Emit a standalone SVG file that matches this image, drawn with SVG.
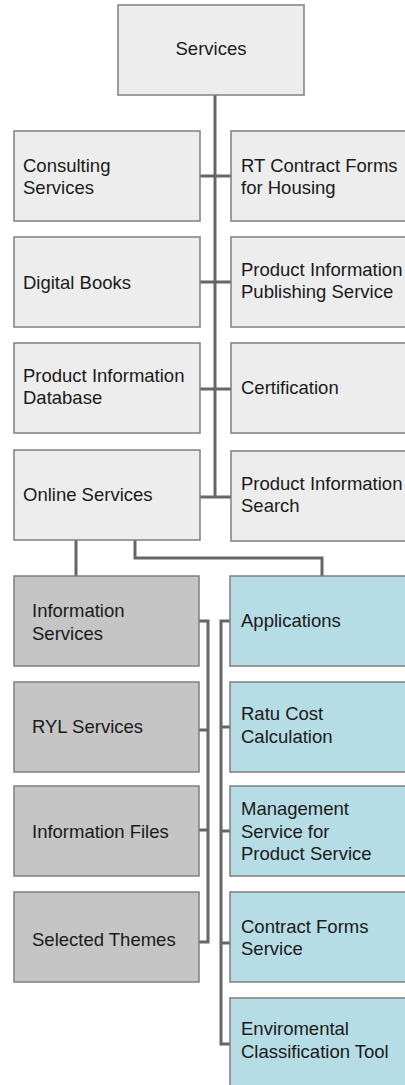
<svg xmlns="http://www.w3.org/2000/svg" width="405" height="1085" viewBox="0 0 405 1085">
<style>
.box{stroke:#7f7f7f;stroke-width:1.5}
.l{fill:#ededed}
.g{fill:#c5c5c5}
.b{fill:#b6dce5}
text{font-family:"Liberation Sans",Arial,sans-serif;font-size:18.5px;fill:#1a1a1a}
.c{stroke:#666;stroke-width:3;fill:none}
</style>
<rect width="405" height="1085" fill="#fff"/>
<g id="connectors">
<path class="c" d="M215,95 V497"/>
<path class="c" d="M200,176 H231 M200,282 H231 M200,389 H231 M200,497 H231"/>
<path class="c" d="M76,540 V576"/>
<path class="c" d="M135,540 V558 H322 V576"/>
<path class="c" d="M199,621 H208 V942 H199 M199,730 H208 M199,830 H208"/>
<path class="c" d="M230,621 H221 V1044 H230 M221,727 H230 M221,831 H230 M221,943 H230"/>
</g>
<g id="n-services"><rect class="box l" x="118" y="5" width="186" height="90"/><text x="211" y="55" text-anchor="middle">Services</text></g>
<g id="n-consulting"><rect class="box l" x="14" y="131" width="186" height="90"/><text x="23" y="172">Consulting</text><text x="23" y="194">Services</text></g>
<g id="n-rt"><rect class="box l" x="231" y="131" width="190" height="90"/><text x="241" y="172">RT Contract Forms</text><text x="241" y="194">for Housing</text></g>
<g id="n-digital"><rect class="box l" x="14" y="237" width="186" height="90"/><text x="23" y="289">Digital Books</text></g>
<g id="n-pips"><rect class="box l" x="231" y="237" width="190" height="90"/><text x="241" y="276">Product Information</text><text x="241" y="298">Publishing Service</text></g>
<g id="n-pid"><rect class="box l" x="14" y="343" width="186" height="90"/><text x="23" y="382">Product Information</text><text x="23" y="404">Database</text></g>
<g id="n-cert"><rect class="box l" x="231" y="343" width="190" height="90"/><text x="241" y="394">Certification</text></g>
<g id="n-online"><rect class="box l" x="14" y="450" width="186" height="90"/><text x="23" y="501">Online Services</text></g>
<g id="n-pis"><rect class="box l" x="231" y="451" width="190" height="90"/><text x="241" y="490">Product Information</text><text x="241" y="512">Search</text></g>
<g id="n-infoserv"><rect class="box g" x="14" y="576" width="185" height="90"/><text x="32" y="617">Information</text><text x="32" y="640">Services</text></g>
<g id="n-ryl"><rect class="box g" x="14" y="682" width="185" height="90"/><text x="32" y="733">RYL Services</text></g>
<g id="n-files"><rect class="box g" x="14" y="786" width="185" height="90"/><text x="32" y="838">Information Files</text></g>
<g id="n-themes"><rect class="box g" x="14" y="892" width="185" height="90"/><text x="32" y="946">Selected Themes</text></g>
<g id="n-apps"><rect class="box b" x="230" y="576" width="190" height="90"/><text x="241" y="627">Applications</text></g>
<g id="n-ratu"><rect class="box b" x="230" y="682" width="190" height="90"/><text x="241" y="720">Ratu Cost</text><text x="241" y="743">Calculation</text></g>
<g id="n-mgmt"><rect class="box b" x="230" y="786" width="190" height="90"/><text x="241" y="815">Management</text><text x="241" y="838">Service for</text><text x="241" y="860">Product Service</text></g>
<g id="n-contract"><rect class="box b" x="230" y="892" width="190" height="90"/><text x="241" y="933">Contract Forms</text><text x="241" y="955">Service</text></g>
<g id="n-env"><rect class="box b" x="230" y="998" width="190" height="92"/><text x="241" y="1035">Enviromental</text><text x="241" y="1058">Classification Tool</text></g>
</svg>
